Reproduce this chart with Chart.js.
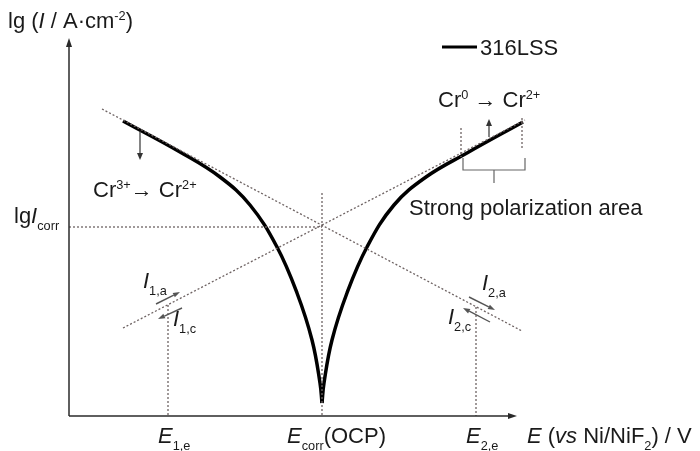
<!DOCTYPE html>
<html>
<head>
<meta charset="utf-8">
<script src="https://cdn.jsdelivr.net/npm/chart.js@4.4.1/dist/chart.umd.min.js"></script>
<style>
html, body { margin: 0; padding: 0; background: #fff; }
#wrap { width: 700px; height: 451px; position: relative; }
</style>
</head>
<body>
<div id="wrap"><canvas id="c"></canvas></div>
<script>
// schematic Tafel plot: E relative to E_corr, lg I relative to lg I_corr (arbitrary units)
const leftE   = [-1.99, -1.42, -1.02, -0.72, -0.45, -0.25, -0.10, -0.02, 0];
const leftLg  = [1.06, 0.75, 0.50, 0.22, -0.20, -0.66, -1.13, -1.56, -1.76];
const rightE  = [0, 0.02, 0.10, 0.25, 0.45, 0.72, 1.04, 1.45, 2.01];
const rightLg = [-1.76, -1.56, -1.13, -0.66, -0.20, 0.22, 0.50, 0.74, 1.05];

// Tafel extrapolation lines
const cathE  = [-2.20, 2.00];
const cathLg = [1.18, -1.04];
const anE    = [-1.99, 2.03];
const anLg   = [-1.01, 1.07];

const Ecorr = 0, lgIcorr = 0;
const E1e = -1.54, E2e = 1.54;
const E1eLg = -0.78, E2eLg = -0.80;
const ecorrTop = 0.34;

// axis extents (x axis at yMin, y axis at xMin)
const xAxisMin = -2.53, xAxisMax = 1.95;
const yAxisMin = -1.89, yAxisMax = 1.89;

const FONT = '"Liberation Sans", Arial, sans-serif';
const DOT = '#6e6363';

const pts = (xs, ys) => xs.map((x, i) => ({x: x, y: ys[i]}));

function line(ctx, x1, y1, x2, y2, color, w, dash) {
  ctx.save();
  ctx.strokeStyle = color; ctx.lineWidth = w;
  ctx.setLineDash(dash || []);
  ctx.beginPath(); ctx.moveTo(x1, y1); ctx.lineTo(x2, y2); ctx.stroke();
  ctx.restore();
}

function arrow(ctx, x1, y1, x2, y2, color, w, head, half) {
  const a = Math.atan2(y2 - y1, x2 - x1);
  const bx = x2 - head * Math.cos(a), by = y2 - head * Math.sin(a);
  line(ctx, x1, y1, bx, by, color, w);
  ctx.save();
  ctx.fillStyle = color;
  ctx.beginPath();
  ctx.moveTo(x2, y2);
  ctx.lineTo(bx + half * Math.sin(a), by - half * Math.cos(a));
  ctx.lineTo(bx - half * Math.sin(a), by + half * Math.cos(a));
  ctx.closePath(); ctx.fill();
  ctx.restore();
}

function rich(ctx, x, y, parts, size) {
  let cx = x;
  parts.forEach(([t, s]) => {
    let fs = size, dy = 0, it = false;
    if (s === 'i') it = true;
    if (s === 'sub') { fs = size * 0.58; dy = size * 0.32; }
    if (s === 'sup') { fs = size * 0.58; dy = -size * 0.38; }
    ctx.font = (it ? 'italic ' : '') + fs + 'px ' + FONT;
    ctx.fillText(t, cx, y + dy);
    cx += ctx.measureText(t).width;
  });
  return cx;
}

const decor = {
  id: 'decor',
  afterDatasetsDraw(chart) {
    const ctx = chart.ctx;
    const X = v => chart.scales.x.getPixelForValue(v);
    const Y = v => chart.scales.y.getPixelForValue(v);
    ctx.save();

    // axes with arrow heads
    arrow(ctx, X(xAxisMin), Y(yAxisMin), X(xAxisMin), Y(yAxisMax), '#2a2a2a', 1.5, 9, 3);
    arrow(ctx, X(xAxisMin), Y(yAxisMin), X(xAxisMax), Y(yAxisMin), '#2a2a2a', 1.5, 9, 3);

    ctx.fillStyle = '#1a1a1a';
    ctx.textBaseline = 'alphabetic';
    const S = 22;

    rich(ctx, 8, 28, [['lg (', 'n'], ['I', 'i'], [' / A·cm', 'n'], ['-2', 'sup'], [')', 'n']], S);
    rich(ctx, 14, Y(lgIcorr) - 4, [['lg', 'n'], ['I', 'i'], ['corr', 'sub']], S);

    const by = 443;
    rich(ctx, X(E1e) - 10, by, [['E', 'i'], ['1,e', 'sub']], S);
    rich(ctx, X(Ecorr) - 35, by, [['E', 'i'], ['corr', 'sub'], ['(OCP)', 'n']], S);
    rich(ctx, X(E2e) - 10, by, [['E', 'i'], ['2,e', 'sub']], S);
    rich(ctx, 527, by, [['E', 'i'], [' (', 'n'], ['vs', 'i'], [' Ni/NiF', 'n'], ['2', 'sub'], [') / V', 'n']], S);

    // legend
    line(ctx, 442, 47, 477, 47, '#000', 3);
    ctx.font = S + 'px ' + FONT;
    ctx.fillText('316LSS', 480, 55);

    // reaction labels
    rich(ctx, 93, 197, [['Cr', 'n'], ['3+', 'sup'], ['→ Cr', 'n'], ['2+', 'sup']], S);
    rich(ctx, 438, 107, [['Cr', 'n'], ['0', 'sup'], [' → Cr', 'n'], ['2+', 'sup']], S);
    ctx.font = S + 'px ' + FONT;
    ctx.fillText('Strong polarization area', 409, 215);

    arrow(ctx, X(-1.82), Y(0.96), X(-1.82), Y(0.67), '#333', 1.2, 7, 3);
    arrow(ctx, X(1.67), Y(0.90), X(1.67), Y(1.08), '#333', 1.2, 7, 3);

    // strong polarization window
    line(ctx, X(1.39), Y(0.99), X(1.39), Y(0.70), DOT, 1.3, [2, 2]);
    line(ctx, X(2.00), Y(1.09), X(2.00), Y(0.79), DOT, 1.3, [2, 2]);
    ctx.save();
    ctx.strokeStyle = '#666'; ctx.lineWidth = 1.2;
    ctx.beginPath();
    ctx.moveTo(X(1.41), Y(0.69)); ctx.lineTo(X(1.41), Y(0.57));
    ctx.lineTo(X(2.03), Y(0.57)); ctx.lineTo(X(2.03), Y(0.69));
    ctx.moveTo(X(1.72), Y(0.57)); ctx.lineTo(X(1.72), Y(0.44));
    ctx.stroke();
    ctx.restore();

    // partial current arrows along Tafel lines
    arrow(ctx, X(-1.66), Y(-0.77), X(-1.42), Y(-0.65), '#555', 1.4, 7, 2.5);
    arrow(ctx, X(-1.40), Y(-0.81), X(-1.64), Y(-0.92), '#555', 1.4, 7, 2.5);
    arrow(ctx, X(1.47), Y(-0.70), X(1.73), Y(-0.83), '#555', 1.4, 7, 2.5);
    arrow(ctx, X(1.68), Y(-0.95), X(1.41), Y(-0.81), '#555', 1.4, 7, 2.5);

    ctx.fillStyle = '#1a1a1a';
    rich(ctx, 143, 288, [['I', 'i'], ['1,a', 'sub']], S);
    rich(ctx, 173, 326, [['I', 'i'], ['1,c', 'sub']], S);
    rich(ctx, 482, 290, [['I', 'i'], ['2,a', 'sub']], S);
    rich(ctx, 448, 324, [['I', 'i'], ['2,c', 'sub']], S);

    ctx.restore();
  }
};

const dotted = {borderColor: DOT, borderWidth: 1.3, borderDash: [2, 2], pointRadius: 0, showLine: true, fill: false};
const curve = {borderColor: '#000', borderWidth: 3.5, pointRadius: 0, showLine: true, fill: false, tension: 0.4};

new Chart(document.getElementById('c'), {
  type: 'scatter',
  data: {
    datasets: [
      Object.assign({label: 'cathodic Tafel', data: pts(cathE, cathLg)}, dotted),
      Object.assign({label: 'anodic Tafel', data: pts(anE, anLg)}, dotted),
      Object.assign({label: 'lg Icorr', data: pts([xAxisMin, Ecorr], [lgIcorr, lgIcorr])}, dotted),
      Object.assign({label: 'Ecorr', data: pts([Ecorr, Ecorr], [ecorrTop, yAxisMin])}, dotted),
      Object.assign({label: 'E1,e', data: pts([E1e, E1e], [E1eLg, yAxisMin])}, dotted),
      Object.assign({label: 'E2,e', data: pts([E2e, E2e], [E2eLg, yAxisMin])}, dotted),
      Object.assign({label: '316LSS', data: pts(leftE, leftLg)}, curve),
      Object.assign({label: '316LSS right', data: pts(rightE, rightLg)}, curve)
    ]
  },
  options: {
    responsive: true,
    maintainAspectRatio: false,
    animation: false,
    layout: {padding: 0},
    plugins: {legend: {display: false}, tooltip: {enabled: false}, title: {display: false}},
    scales: {
      x: {type: 'linear', min: -3.22, max: 3.78, display: false},
      y: {type: 'linear', min: -2.24, max: 2.27, display: false}
    }
  },
  plugins: [decor]
});
</script>
</body>
</html>
